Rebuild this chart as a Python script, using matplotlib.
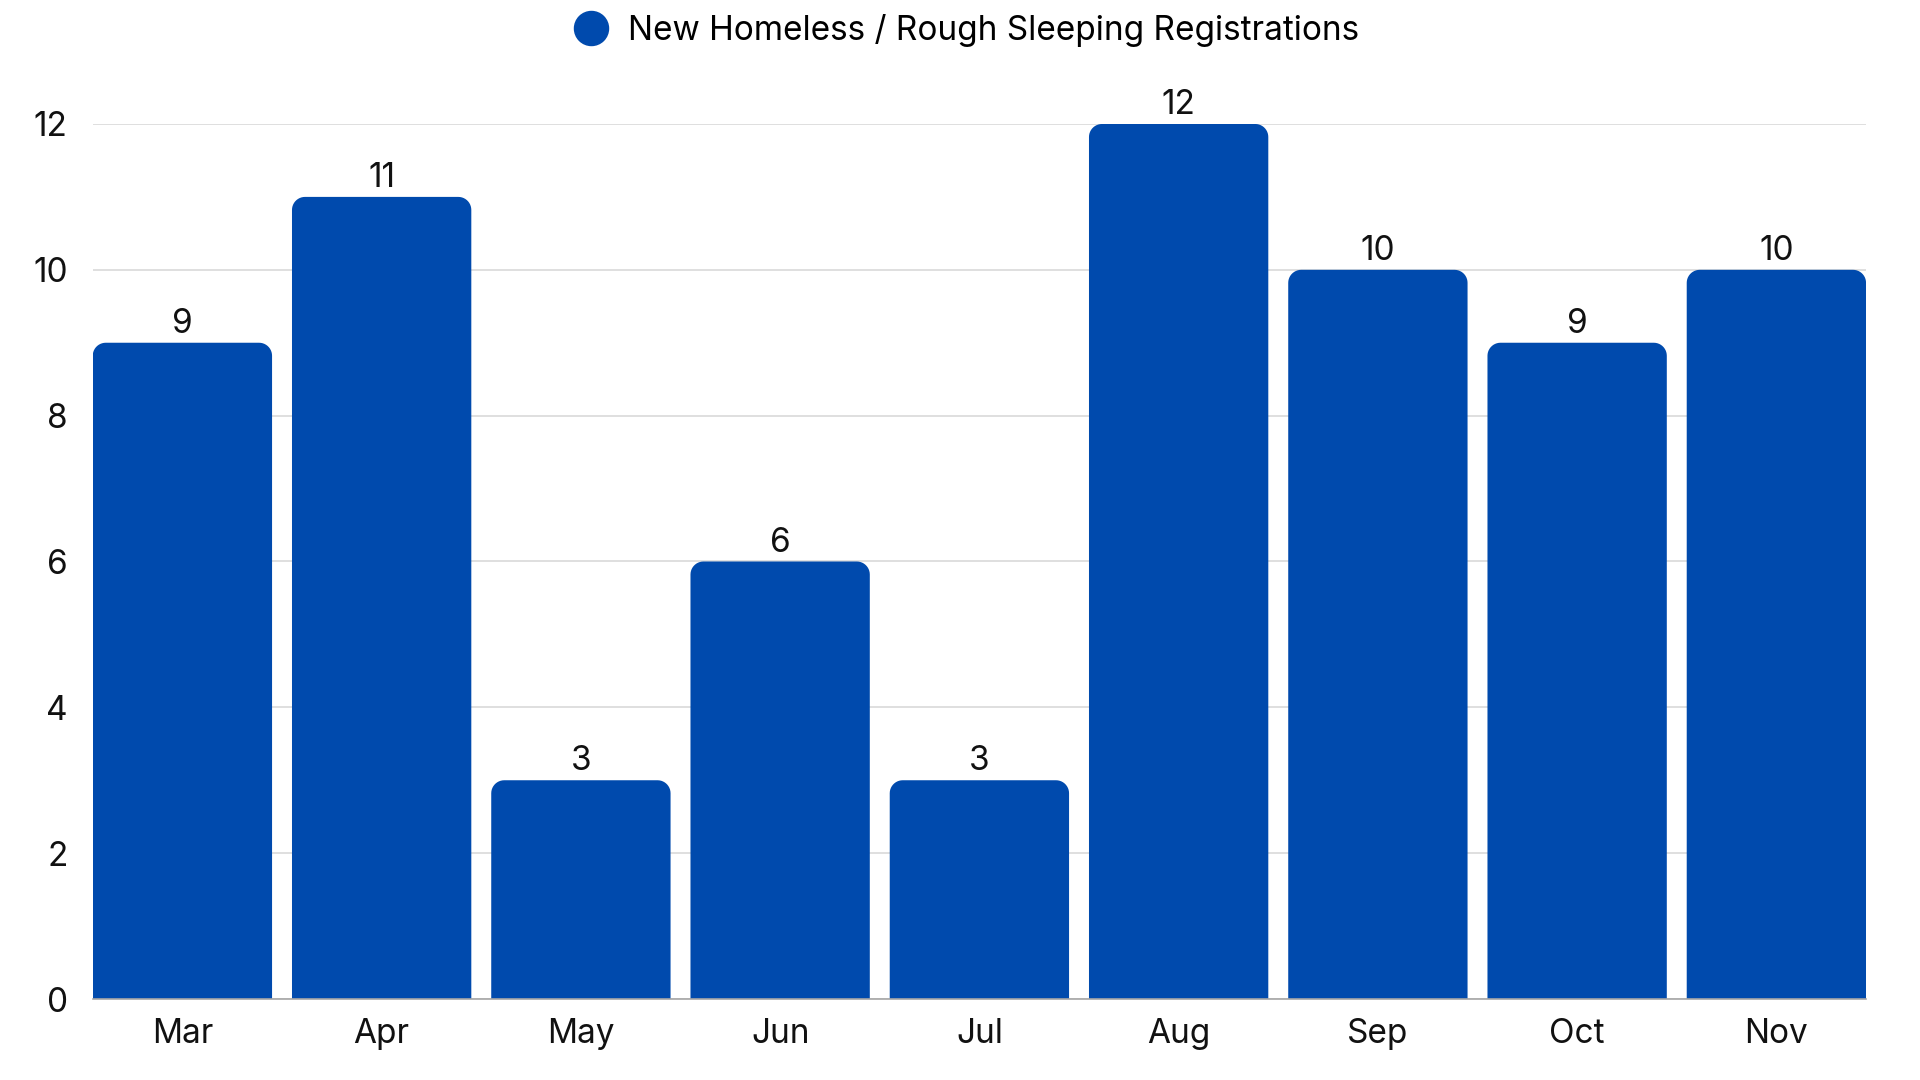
import numpy as np
import matplotlib.pyplot as plt
from matplotlib.patches import Polygon
from matplotlib.lines import Line2D

months = ["Mar", "Apr", "May", "Jun", "Jul", "Aug", "Sep", "Oct", "Nov"]
registrations = [9, 11, 3, 6, 3, 12, 10, 9, 10]
y_ticks = [0, 2, 4, 6, 8, 10, 12]
series_name = "New Homeless / Rough Sleeping Registrations"

blue = "#004AAD"
text_col = "#111111"

plt.rcParams['font.family'] = ['Inter', 'DejaVu Sans']

fig = plt.figure(figsize=(19.2, 10.8), dpi=100)
ax = fig.add_axes([0.0483, 0.075, 0.9236, 0.8102])

x = list(range(len(months)))
bars = ax.bar(x, registrations, width=0.9, color=blue, zorder=3)

ax.set_xlim(-0.45, len(months) - 0.55)
ax.set_ylim(0, 12)

# corner radius of ~13px, turned into data units on each axis
fig.canvas.draw()
bbox = ax.get_window_extent()
rx = 13 * (ax.get_xlim()[1] - ax.get_xlim()[0]) / bbox.width
ry = 13 * (ax.get_ylim()[1] - ax.get_ylim()[0]) / bbox.height
t = np.linspace(0, np.pi / 2, 12)

# redraw each bar as one outline with rounded top corners
for rect in bars:
    x0, w, h = rect.get_x(), rect.get_width(), rect.get_height()
    x1 = x0 + w
    rect.set_visible(False)
    left_arc = np.column_stack([x0 + rx - rx * np.cos(t), h - ry + ry * np.sin(t)])
    right_arc = np.column_stack([x1 - rx + rx * np.sin(t), h - ry + ry * np.cos(t)])
    pts = np.vstack([[[x0, 0]], left_arc, right_arc, [[x1, 0]]])
    ax.add_patch(Polygon(pts, closed=True, facecolor=blue, edgecolor="none", zorder=3))
    ax.annotate(f"{h:g}", (x0 + w / 2, h), xytext=(0, 2),
                textcoords="offset points", ha="center", va="bottom",
                fontsize=24, color=text_col, annotation_clip=False)

ax.set_xticks(x)
ax.set_xticklabels(months)
ax.set_yticks(y_ticks)
ax.tick_params(axis="both", length=0, labelsize=24, colors=text_col)
ax.tick_params(axis="x", pad=14)
ax.tick_params(axis="y", pad=18)

ax.grid(axis="y", color="#d9d9d9", linewidth=1.2, zorder=0)
ax.set_axisbelow(True)
for side in ["top", "right", "left"]:
    ax.spines[side].set_visible(False)
ax.spines["bottom"].set_color("#a6a6a6")
ax.spines["bottom"].set_linewidth(1.2)
ax.spines["bottom"].set_zorder(4)

handle = Line2D([], [], marker="o", linestyle="none", markersize=24.5,
                markerfacecolor=blue, markeredgecolor=blue)
ax.legend([handle], [series_name], loc="center",
          bbox_to_anchor=(0.503, 0.972), bbox_transform=fig.transFigure,
          frameon=False, fontsize=24, handlelength=1.1, handletextpad=0.55,
          borderpad=0)

fig.savefig("out.png", dpi=100)
